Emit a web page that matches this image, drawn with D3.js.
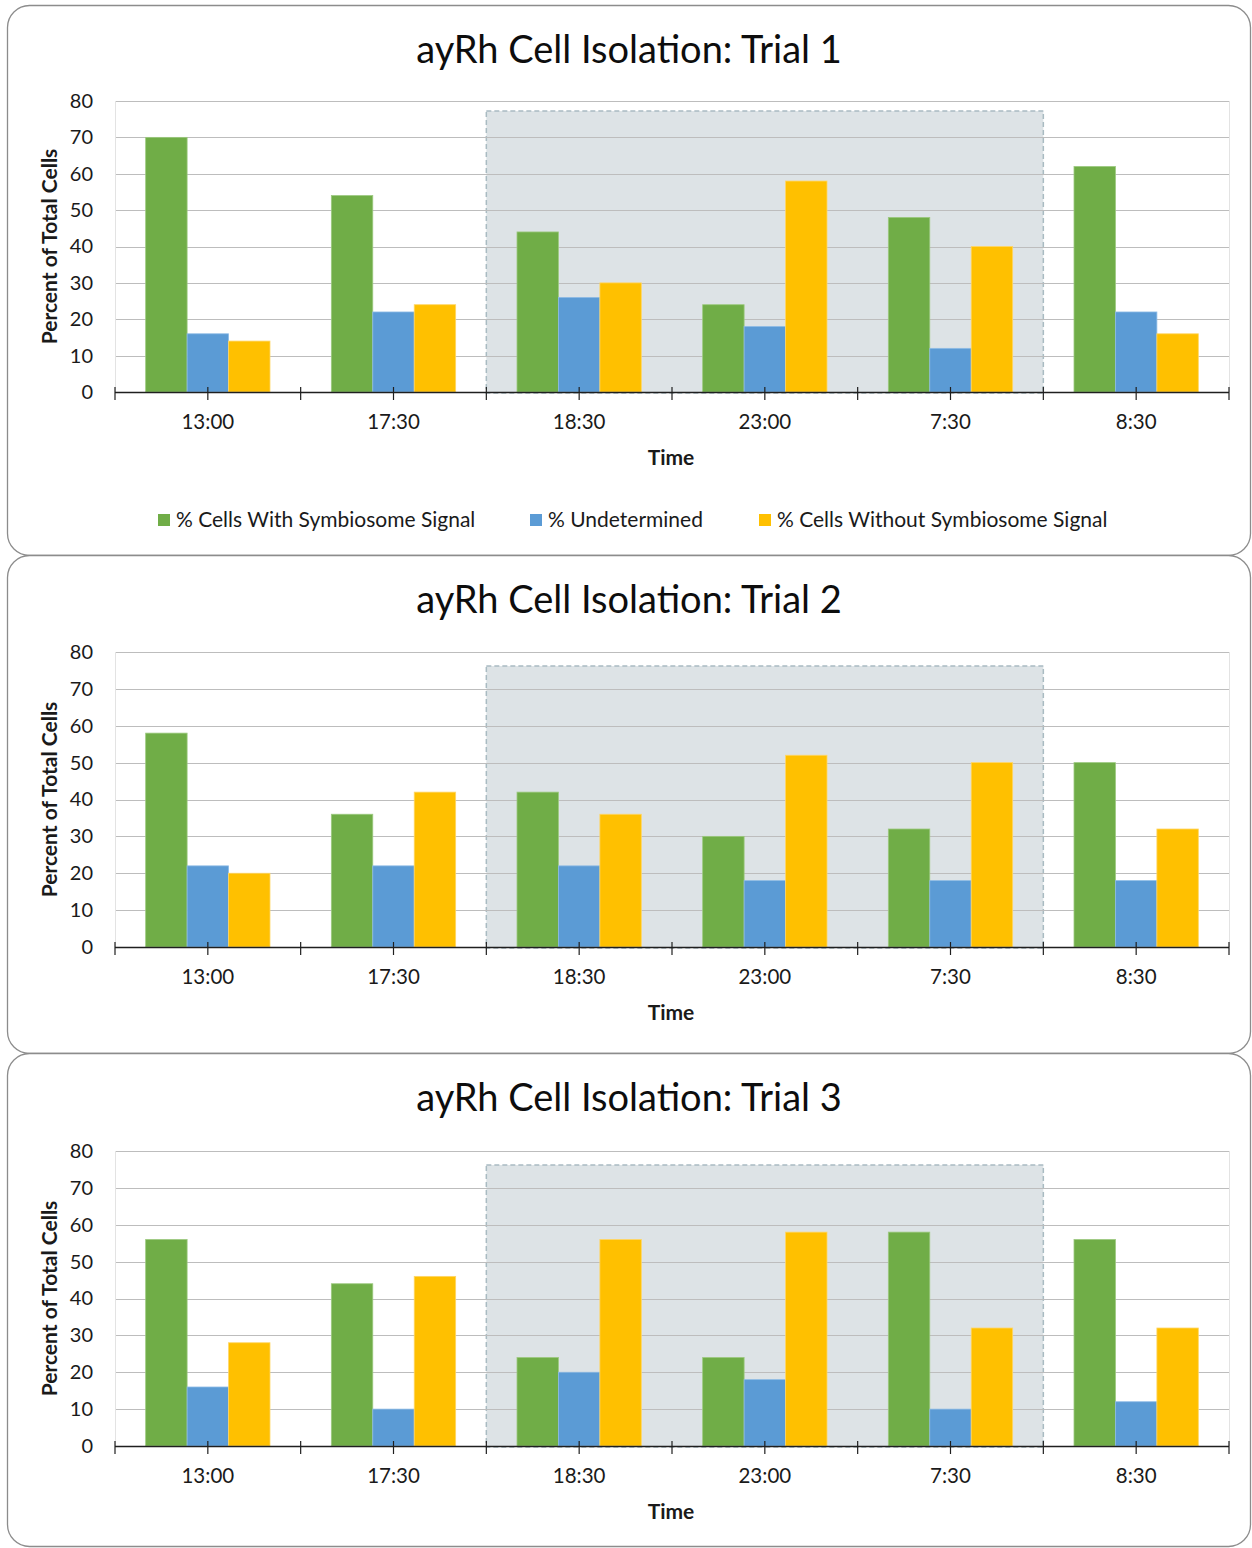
<!DOCTYPE html>
<html>
<head>
<meta charset="utf-8">
<script src="https://cdn.jsdelivr.net/npm/d3@7/dist/d3.min.js"></script>
<style>
  html, body { margin: 0; padding: 0; background: #ffffff; }
  svg { display: block; font-family: Lato, "Open Sans", sans-serif; }
</style>
</head>
<body>
<svg id="chart" width="1252" height="1548"></svg>
<script>
// Sampling times
const categories = ["13:00", "17:30", "18:30", "23:00", "7:30", "8:30"];
const seriesNames = ["% Cells With Symbiosome Signal", "% Undetermined", "% Cells Without Symbiosome Signal"];
const seriesColors = ["#70ad47", "#5b9bd5", "#ffc000"];
const seriesEdges = ["#9cc97f", "#8dbbe5", "#ffd666"];
const yTicks = [0, 10, 20, 30, 40, 50, 60, 70, 80];
const trialTitles = ["ayRh Cell Isolation: Trial 1", "ayRh Cell Isolation: Trial 2", "ayRh Cell Isolation: Trial 3"];
// Night-time window (highlighted band), from first to last category inside it
const nightStart = "18:30";
const nightEnd = "7:30";

// Trial 1
const trial1With = [70, 54, 44, 24, 48, 62];
const trial1Undetermined = [16, 22, 26, 18, 12, 22];
const trial1Without = [14, 24, 30, 58, 40, 16];
// Trial 2
const trial2With = [58, 36, 42, 30, 32, 50];
const trial2Undetermined = [22, 22, 22, 18, 18, 18];
const trial2Without = [20, 42, 36, 52, 50, 32];
// Trial 3
const trial3With = [56, 44, 24, 24, 58, 56];
const trial3Undetermined = [16, 10, 20, 18, 10, 12];
const trial3Without = [28, 46, 56, 58, 32, 32];

const trials = [
  [trial1With, trial1Undetermined, trial1Without],
  [trial2With, trial2Undetermined, trial2Without],
  [trial3With, trial3Undetermined, trial3Without]
];

const svg = d3.select("#chart");

// Panel frames and plot areas
const panels = [
  { top: 5,    bottom: 555,  plotTop: 101,  plotBottom: 392,  bandInset: 10, legend: true },
  { top: 555,  bottom: 1053, plotTop: 652,  plotBottom: 947,  bandInset: 14, legend: false },
  { top: 1053, bottom: 1546, plotTop: 1151, plotBottom: 1446, bandInset: 14, legend: false }
];
const plotLeft = 115, plotRight = 1229;

const x = d3.scaleBand().domain(categories).range([plotLeft, plotRight]).paddingInner(0).paddingOuter(0);
const inner = d3.scaleBand().domain(d3.range(3)).range([0, x.bandwidth()]).paddingOuter(0.74).paddingInner(0);

panels.forEach((p, ti) => {
  const g = svg.append("g");

  g.append("rect")
    .attr("x", 7.5).attr("y", p.top + 0.5)
    .attr("width", 1243).attr("height", p.bottom - p.top)
    .attr("rx", 22).attr("ry", 22)
    .attr("fill", "#ffffff")
    .attr("stroke", "#8c8c8c").attr("stroke-width", 1.3);

  const y = d3.scaleLinear().domain([0, 80]).range([p.plotBottom, p.plotTop]);

  // title
  g.append("text")
    .attr("x", 629).attr("y", p.top + 58)
    .attr("text-anchor", "middle")
    .attr("font-size", 38)
    .attr("fill", "#0d0d0d")
    .text(trialTitles[ti]);

  // highlighted night window
  const bx0 = x(nightStart), bx1 = x(nightEnd) + x.bandwidth();
  g.append("rect")
    .attr("x", bx0).attr("y", p.plotTop + p.bandInset)
    .attr("width", bx1 - bx0).attr("height", p.plotBottom - p.plotTop - p.bandInset + 1)
    .attr("fill", "#dde3e6")
    .attr("stroke", "#a9bbc2").attr("stroke-width", 1.5)
    .attr("stroke-dasharray", "5,3");

  // gridlines
  g.append("g")
    .selectAll("line")
    .data(yTicks.filter(t => t > 0))
    .join("line")
    .attr("x1", plotLeft).attr("x2", plotRight)
    .attr("y1", d => Math.round(y(d)) + 0.5).attr("y2", d => Math.round(y(d)) + 0.5)
    .attr("stroke", "#bdbdbd").attr("stroke-width", 1);

  // faint plot side lines
  [plotLeft, plotRight].forEach(px => {
    g.append("line")
      .attr("x1", px + 0.5).attr("x2", px + 0.5)
      .attr("y1", p.plotTop).attr("y2", p.plotBottom)
      .attr("stroke", "#e3e3e3").attr("stroke-width", 1);
  });

  // y tick labels
  const yAxis = d3.axisLeft(y).tickValues(yTicks).tickSize(0).tickPadding(22);
  const ya = g.append("g").attr("transform", `translate(${plotLeft},0)`).call(yAxis);
  ya.select(".domain").remove();
  ya.selectAll("text").attr("font-size", 20).attr("fill", "#1a1a1a").attr("font-family", "Lato, sans-serif");

  // bars
  const values = trials[ti];
  categories.forEach((c, ci) => {
    values.forEach((arr, si) => {
      const v = arr[ci];
      g.append("rect")
        .attr("x", x(c) + inner(si))
        .attr("y", y(v))
        .attr("width", inner.bandwidth())
        .attr("height", y(0) - y(v))
        .attr("fill", seriesColors[si])
        .attr("stroke", seriesEdges[si]).attr("stroke-width", 0.8);
    });
  });

  // x axis with ticks at boundaries and at category centres
  const boundaries = categories.map(c => x(c)).concat([plotRight]);
  const centres = categories.map(c => x(c) + x.bandwidth() / 2);
  const ax = g.append("g");
  ax.append("line")
    .attr("x1", plotLeft).attr("x2", plotRight)
    .attr("y1", p.plotBottom + 0.5).attr("y2", p.plotBottom + 0.5)
    .attr("stroke", "#1f1f1f").attr("stroke-width", 1.5);
  boundaries.concat(centres).forEach(tx => {
    ax.append("line")
      .attr("x1", tx).attr("x2", tx)
      .attr("y1", p.plotBottom - 5).attr("y2", p.plotBottom + 8)
      .attr("stroke", "#1f1f1f").attr("stroke-width", 1.2);
  });
  ax.selectAll("text.cat")
    .data(categories)
    .join("text")
    .attr("class", "cat")
    .attr("x", d => x(d) + x.bandwidth() / 2)
    .attr("y", p.plotBottom + 37)
    .attr("text-anchor", "middle")
    .attr("font-size", 20.5)
    .attr("fill", "#1a1a1a")
    .text(d => d);

  // axis titles
  g.append("text")
    .attr("x", 671).attr("y", p.plotBottom + 73)
    .attr("text-anchor", "middle")
    .attr("font-size", 21).attr("font-weight", "bold")
    .attr("fill", "#1a1a1a")
    .text("Time");

  g.append("text")
    .attr("transform", `translate(57,${(p.plotTop + p.plotBottom) / 2}) rotate(-90)`)
    .attr("text-anchor", "middle")
    .attr("font-size", 21).attr("font-weight", "bold")
    .attr("fill", "#1a1a1a")
    .text("Percent of Total Cells");

  // legend
  if (p.legend) {
    const legendX = [158, 530, 759];
    const lg = g.append("g");
    seriesNames.forEach((n, si) => {
      lg.append("rect")
        .attr("x", legendX[si]).attr("y", 514)
        .attr("width", 12).attr("height", 12)
        .attr("fill", seriesColors[si]);
      lg.append("text")
        .attr("x", legendX[si] + 18).attr("y", 527)
        .attr("font-size", 21)
        .attr("fill", "#1a1a1a")
        .text(n);
    });
  }
});
</script>
</body>
</html>
